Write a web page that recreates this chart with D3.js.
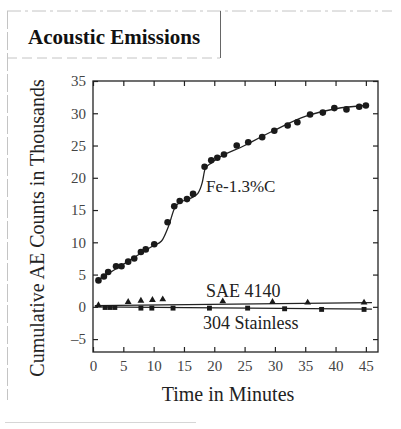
<!DOCTYPE html>
<html>
<head>
<meta charset="utf-8">
<script src="https://cdn.jsdelivr.net/npm/d3@7"></script>
<style>
  body { margin: 0; background: #fff; }
  svg { display: block; }
  text { font-family: "Liberation Serif", "DejaVu Serif", serif; fill: #222; }
  .axis path { display: none; }
  .axis line { stroke: #222; stroke-width: 1.2; }
  .axis text { font-size: 15px; fill: #444; }
</style>
</head>
<body>
<div id="chart"></div>
<script>
// readings taken off the printed figure (minutes, thousands of counts)
const feTime   = [0.9, 1.8, 2.5, 3.8, 4.7, 5.8, 6.8, 7.9, 8.7, 10.1, 12.3, 13.4, 14.3, 15.5, 16.5, 18.4, 19.5, 20.5, 21.6, 23.7, 25.6, 27.9, 29.9, 32.1, 33.7, 35.8, 37.9, 39.8, 41.8, 43.9, 45.0];
const feCounts = [4.1, 4.7, 5.4, 6.3, 6.3, 7.0, 7.5, 8.5, 8.9, 9.7, 13.1, 15.6, 16.4, 16.7, 17.5, 21.7, 22.7, 23.1, 23.6, 25.0, 25.5, 26.3, 27.3, 28.1, 28.6, 29.8, 30.1, 30.8, 30.6, 31.0, 31.2];
// hand drawn fit line through the Fe points
const feFitTime   = [0.9, 5, 10, 11.3, 12.5, 13.5, 14.6, 16, 17.3, 18, 18.5, 19.5, 25, 30, 35, 40, 45];
const feFitCounts = [4.2, 6.6, 9.5, 10.2, 12.6, 15.4, 16.3, 16.8, 17.6, 19.2, 21.4, 22.3, 25.0, 27.4, 29.5, 30.7, 31.2];

const saeTime   = [0.9, 5.8, 7.9, 9.8, 11.5, 21.4, 29.6, 35.4, 44.7];
const saeCounts = [0.1, 0.6, 0.8, 0.9, 1.0, 0.7, 0.6, 0.5, 0.5];
const saeFitTime = [0.3, 46];
const saeFitCounts = [0.2, 0.65];

const ssTime   = [2.0, 2.8, 3.6, 7.9, 9.7, 13.2, 19.2, 25.5, 31.6, 37.7, 44.7];
const ssCounts = [-0.1, -0.1, -0.1, -0.2, -0.2, -0.2, -0.2, -0.2, -0.3, -0.4, -0.4];
const ssFitTime = [0.3, 46];
const ssFitCounts = [0.0, -0.35];

const xTicks = [0, 5, 10, 15, 20, 25, 30, 35, 40, 45];
const yTicks = [-5, 0, 5, 10, 15, 20, 25, 30, 35];

const title = 'Acoustic Emissions';
const xLabel = 'Time in Minutes';
const yLabel = 'Cumulative AE Counts in Thousands';

const W = 401, H = 429;
const plot = { left: 93, right: 378, top: 81, bottom: 352 };

const svg = d3.select('#chart').append('svg')
  .attr('width', W)
  .attr('height', H);

const x = d3.scaleLinear().domain([0, 47]).range([plot.left, plot.right]);
const y = d3.scaleLinear().domain([-7, 35]).range([plot.bottom, plot.top]);

const zip = (a, b) => a.map((v, i) => [v, b[i]]);

// page rules / title box (faint printed border)
const faint = '#c4c4c4';
svg.append('line').attr('x1', 7).attr('x2', 392).attr('y1', 11).attr('y2', 11)
  .attr('stroke', faint).attr('stroke-dasharray', '14 4 3 4');
svg.append('line').attr('x1', 7).attr('x2', 220).attr('y1', 58).attr('y2', 58)
  .attr('stroke', faint).attr('stroke-dasharray', '10 5');
svg.append('line').attr('x1', 7.5).attr('x2', 7.5).attr('y1', 11).attr('y2', 400)
  .attr('stroke', faint).attr('stroke-dasharray', '18 3');
svg.append('line').attr('x1', 220.5).attr('x2', 220.5).attr('y1', 11).attr('y2', 58)
  .attr('stroke', '#666').attr('stroke-width', 1);
svg.append('line').attr('x1', 5).attr('x2', 196).attr('y1', 422.5).attr('y2', 422.5)
  .attr('stroke', '#d6d6d6');

svg.append('text')
  .attr('x', 28).attr('y', 44)
  .style('font-size', '21px')
  .style('font-weight', 'bold')
  .style('fill', '#111')
  .text(title);

// axes, ticks pointing inward on all four sides
const tickLen = 5;
svg.append('g').attr('class', 'axis')
  .attr('transform', `translate(0,${plot.bottom})`)
  .call(d3.axisBottom(x).tickValues(xTicks).tickSize(-tickLen).tickPadding(8));
svg.append('g').attr('class', 'axis')
  .attr('transform', `translate(0,${plot.top})`)
  .call(d3.axisTop(x).tickValues(xTicks).tickSize(-tickLen).tickFormat(''));
svg.append('g').attr('class', 'axis')
  .attr('transform', `translate(${plot.left},0)`)
  .call(d3.axisLeft(y).tickValues(yTicks).tickSize(-tickLen).tickPadding(7)
    .tickFormat(d => d < 0 ? '\u2013' + (-d) : d));
svg.append('g').attr('class', 'axis')
  .attr('transform', `translate(${plot.right},0)`)
  .call(d3.axisRight(y).tickValues(yTicks).tickSize(-tickLen).tickFormat(''));

svg.append('rect')
  .attr('x', plot.left).attr('y', plot.top)
  .attr('width', plot.right - plot.left)
  .attr('height', plot.bottom - plot.top)
  .attr('fill', 'none')
  .attr('stroke', '#222')
  .attr('stroke-width', 1.3);

// fit lines
const line = d3.line().x(d => x(d[0])).y(d => y(d[1]));
svg.append('path')
  .datum(zip(feFitTime, feFitCounts))
  .attr('d', line.curve(d3.curveMonotoneX))
  .attr('fill', 'none').attr('stroke', '#222').attr('stroke-width', 1.3);
svg.append('path')
  .datum(zip(saeFitTime, saeFitCounts))
  .attr('d', d3.line().x(d => x(d[0])).y(d => y(d[1])))
  .attr('fill', 'none').attr('stroke', '#222').attr('stroke-width', 1.3);
svg.append('path')
  .datum(zip(ssFitTime, ssFitCounts))
  .attr('d', d3.line().x(d => x(d[0])).y(d => y(d[1])))
  .attr('fill', 'none').attr('stroke', '#222').attr('stroke-width', 1.3);

// markers
svg.append('g').selectAll('circle')
  .data(zip(feTime, feCounts))
  .join('circle')
  .attr('cx', d => x(d[0])).attr('cy', d => y(d[1]))
  .attr('r', 3.3).attr('fill', '#1a1a1a');

svg.append('g').selectAll('path')
  .data(zip(ssTime, ssCounts))
  .join('path')
  .attr('transform', d => `translate(${x(d[0])},${y(d[1])})`)
  .attr('d', d3.symbol(d3.symbolSquare, 24))
  .attr('fill', '#1a1a1a');

svg.append('g').selectAll('path')
  .data(zip(saeTime, saeCounts))
  .join('path')
  .attr('transform', d => `translate(${x(d[0])},${y(d[1]) - 1})`)
  .attr('d', d3.symbol(d3.symbolTriangle, 20))
  .attr('fill', '#1a1a1a');

// series labels
svg.append('text').attr('x', 206).attr('y', 192)
  .style('font-size', '17px').text('Fe-1.3%C');
svg.append('text').attr('x', 206).attr('y', 297)
  .style('font-size', '18px').text('SAE 4140');
svg.append('text').attr('x', 203).attr('y', 329)
  .style('font-size', '18px').text('304 Stainless');

// axis titles
svg.append('text')
  .attr('x', 228).attr('y', 401)
  .attr('text-anchor', 'middle')
  .style('font-size', '20px')
  .text(xLabel);
svg.append('text')
  .attr('transform', `translate(44,${228}) rotate(-90)`)
  .attr('text-anchor', 'middle')
  .style('font-size', '20px')
  .text(yLabel);
</script>
</body>
</html>
